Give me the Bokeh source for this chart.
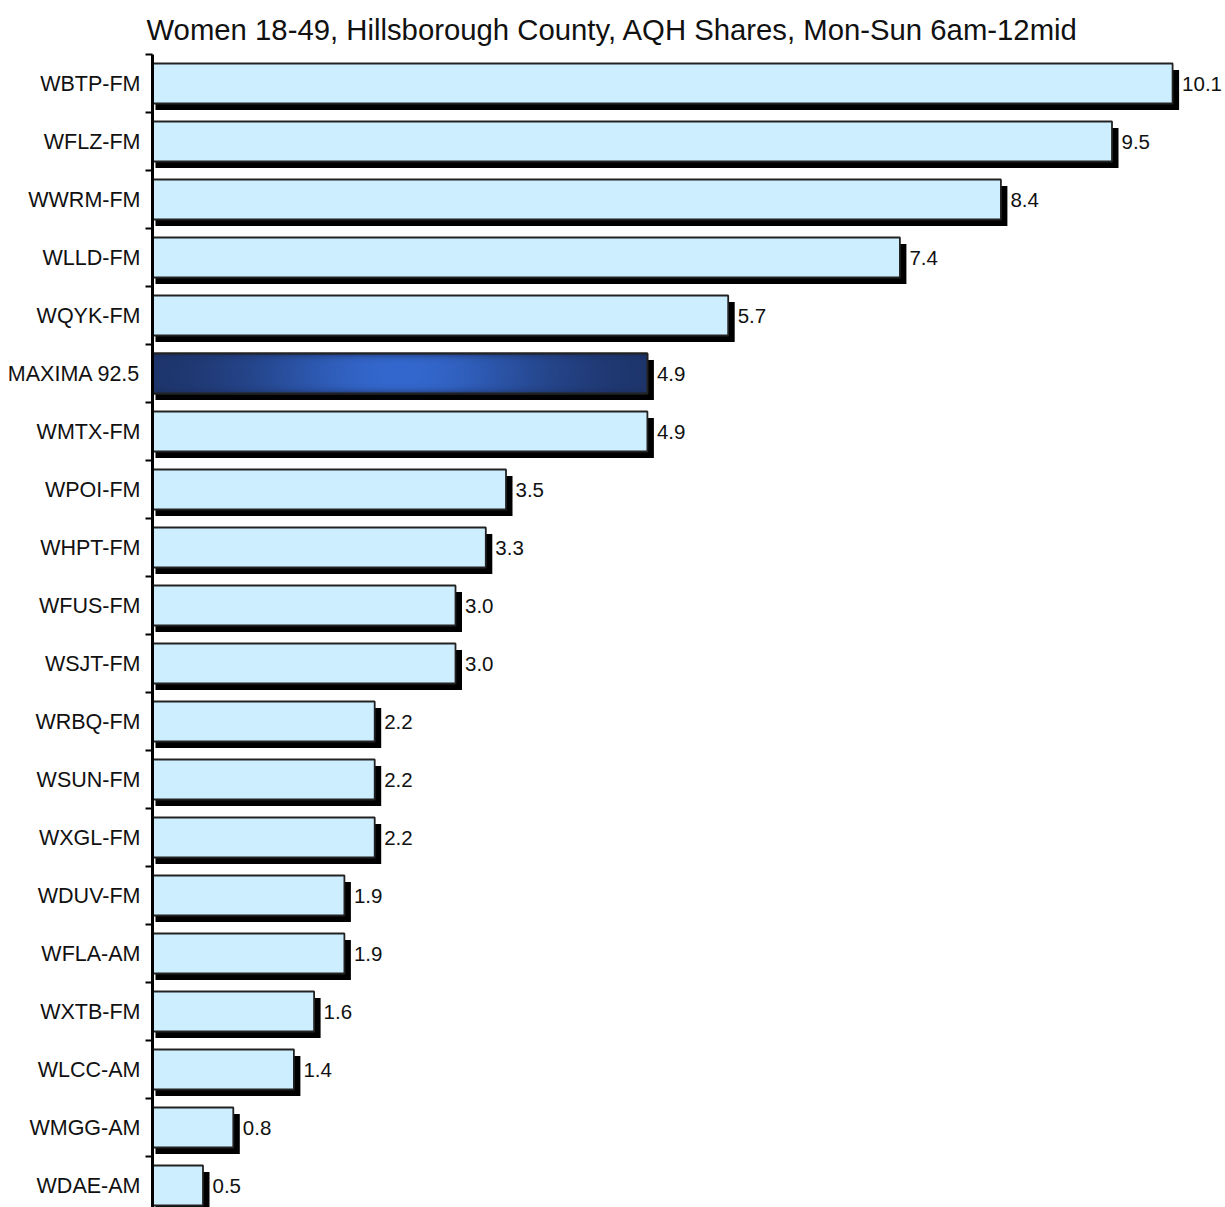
import numpy as np
from bokeh.plotting import figure
from bokeh.models import Range1d, FixedTicker, ColumnDataSource
from bokeh.core.properties import value
from bokeh.embed import file_html
from bokeh.resources import INLINE

# ---- data ----
title_text = "Women 18-49, Hillsborough County, AQH Shares, Mon-Sun 6am-12mid"
stations = ["WBTP-FM", "WFLZ-FM", "WWRM-FM", "WLLD-FM", "WQYK-FM", "MAXIMA 92.5",
            "WMTX-FM", "WPOI-FM", "WHPT-FM", "WFUS-FM", "WSJT-FM", "WRBQ-FM",
            "WSUN-FM", "WXGL-FM", "WDUV-FM", "WFLA-AM", "WXTB-FM", "WLCC-AM",
            "WMGG-AM", "WDAE-AM"]
shares = [10.1, 9.5, 8.4, 7.4, 5.7, 4.9, 4.9, 3.5, 3.3, 3.0, 3.0, 2.2, 2.2, 2.2,
          1.9, 1.9, 1.6, 1.4, 0.8, 0.5]
share_labels = ["10.1", "9.5", "8.4", "7.4", "5.7", "4.9", "4.9", "3.5", "3.3", "3.0",
                "3.0", "2.2", "2.2", "2.2", "1.9", "1.9", "1.6", "1.4", "0.8", "0.5"]
highlight = "MAXIMA 92.5"

# ---- layout constants ----
W, H = 1225, 1207
border_left = 152
frame_top = 54
px_per_unit_x = 101.0
px_per_cat = 58.0
n = len(stations)
x_end = (W - border_left) / px_per_unit_x
y_top = n - 0.5
y_bottom = y_top - (H - frame_top) / px_per_cat
bar_h = 40.0 / px_per_cat

ypos = [n - 1 - i for i in range(n)]
sdx = 6.5 / px_per_unit_x
sdx0 = 3.0 / px_per_unit_x
sdy = 6.5 / px_per_cat

FONT = "Liberation Sans"
LIGHT = "#cceeff"

p = figure(width=W, height=H, output_backend="svg", toolbar_location=None,
           x_range=Range1d(0, x_end), y_range=Range1d(y_bottom, y_top),
           min_border_left=border_left, min_border_right=0, min_border_bottom=0,
           min_border_top=frame_top, title=title_text)
p.outline_line_color = None
p.xgrid.visible = False
p.ygrid.visible = False
p.xaxis.visible = False
p.background_fill_color = "white"
p.border_fill_color = "white"

p.title.text_font = FONT
p.title.text_font_size = "29.3px"
p.title.text_font_style = "normal"
p.title.text_color = "#111111"
p.title.align = "left"
p.title.offset = -6
p.title.standoff = 18

src = ColumnDataSource(dict(
    y=ypos, share=shares, label=share_labels, station=stations,
    sh_left=[sdx0] * n, sh_right=[s + sdx for s in shares],
    sh_top=[y + bar_h / 2 - sdy for y in ypos], sh_bottom=[y - bar_h / 2 - sdy for y in ypos],
    fill=[("#000000" if s == highlight else LIGHT) for s in stations],
    falpha=[(0.0 if s == highlight else 1.0) for s in stations],
))

# shadows
p.quad(left="sh_left", right="sh_right", top="sh_top", bottom="sh_bottom", source=src,
       fill_color="black", line_color=None)
# bars
p.hbar(y="y", right="share", left=0, height=bar_h, source=src,
       fill_color="fill", fill_alpha="falpha", line_color="#222222", line_width=1.8)

# gradient for highlighted bar
hi = stations.index(highlight)
gh, gw = 40, 240
xs = np.linspace(0, 1, gw)
ys = np.linspace(0, 1, gh)
fx = np.exp(-((xs - 0.5) / 0.3) ** 2)
gy = 1 - np.abs((ys - 0.5) / 0.5) ** 6
edge = np.array([26, 44, 90], dtype=float)
bright = np.array([52, 104, 206], dtype=float)
t = (0.1 + 0.9 * fx)[None, :] * (0.35 + 0.65 * gy)[:, None]
col = edge[None, None, :] + (bright - edge)[None, None, :] * t[:, :, None]
col = np.clip(col, 0, 255).astype(np.uint8)
img = np.empty((gh, gw), dtype=np.uint32)
view = img.view(dtype=np.uint8).reshape((gh, gw, 4))
view[:, :, :3] = col
view[:, :, 3] = 255
p.image_rgba(image=[img], x=0, y=ypos[hi] - bar_h / 2, dw=shares[hi], dh=bar_h)
p.hbar(y=[ypos[hi]], right=[shares[hi]], left=0, height=bar_h,
       fill_alpha=0, line_color="#222222", line_width=1.8)

# value labels
p.text(x="share", y="y", text="label", source=src, x_offset=9.5,
       text_baseline="middle", text_align="left", text_font=value(FONT),
       text_font_size="20.5px", text_color="#111111")

# y axis
ax = p.yaxis[0]
ax.ticker = FixedTicker(ticks=ypos, minor_ticks=[y + 0.5 for y in ypos])
ax.major_label_overrides = {y: s for y, s in zip(ypos, stations)}
ax.major_tick_out = 0
ax.major_tick_in = 0
ax.minor_tick_out = 7
ax.minor_tick_in = 0
ax.minor_tick_line_width = 2
ax.minor_tick_line_color = "black"
ax.axis_line_width = 3
ax.axis_line_color = "black"
ax.major_label_standoff = 5
ax.major_label_text_font = FONT
ax.major_label_text_font_size = "21.5px"
ax.major_label_text_color = "#111111"

open("out.html", "w").write(file_html(p, INLINE))
